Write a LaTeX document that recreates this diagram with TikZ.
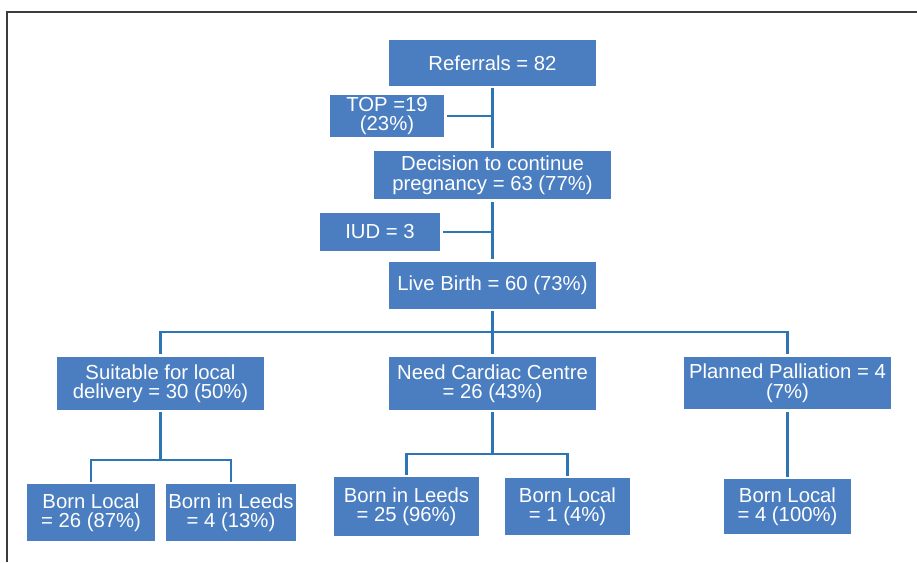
\documentclass[tikz,border=0pt]{standalone}
\usepackage{fontspec}
\setmainfont{Liberation Sans}
\definecolor{boxblue}{RGB}{74,126,192}
\definecolor{lineblue}{RGB}{46,117,182}
\definecolor{framegray}{RGB}{60,60,60}
\begin{document}
\begin{tikzpicture}[x=1pt,y=-1pt,
  box/.style={fill=boxblue,text=white,font=\fontsize{20.3}{19.5}\selectfont,align=center,inner sep=0pt,anchor=center},
  conn/.style={draw=lineblue,line width=2.3pt}]
\useasboundingbox (0,0) rectangle (917,562);
\draw[framegray,line width=2pt] (6.5,562) -- (6.5,11.5) -- (917,11.5);
% boxes
\node[box,minimum width=207,minimum height=46] (ref) at (492.5,63) {Referrals = 82};
\node[box,minimum width=114,minimum height=42] (top) at (387,116) {TOP =19\\(23\%)};
\node[box,minimum width=237,minimum height=48] (dec) at (492.5,175) {Decision to continue\\pregnancy = 63 (77\%)};
\node[box,minimum width=120,minimum height=38] (iud) at (380,232) {IUD = 3};
\node[box,minimum width=207,minimum height=47] (live) at (492.5,285.5) {Live Birth = 60 (73\%)};
\node[box,minimum width=207,minimum height=53] (suit) at (160.5,383.5) {Suitable for local\\delivery = 30 (50\%)};
\node[box,minimum width=207,minimum height=53] (card) at (492.5,383.5) {Need Cardiac Centre\\= 26 (43\%)};
\node[box,minimum width=207,minimum height=52] (pall) at (787.5,383) {Planned Palliation = 4\\(7\%)};
\node[box,minimum width=128,minimum height=57] (bl1) at (91,512.5) {Born Local\\= 26 (87\%)};
\node[box,minimum width=130,minimum height=57] (bil1) at (231,512.5) {Born in Leeds\\= 4 (13\%)};
\node[box,minimum width=145,minimum height=59] (bil2) at (406.5,506.5) {Born in Leeds\\= 25 (96\%)};
\node[box,minimum width=125,minimum height=57] (bl2) at (567.5,506.5) {Born Local\\= 1 (4\%)};
\node[box,minimum width=127,minimum height=55] (bl3) at (787.5,506.5) {Born Local\\= 4 (100\%)};
% branch coordinates
\coordinate (h1) at (492.5,332);
\coordinate (h2) at (160.5,460);
\coordinate (h3) at (492.5,454);
% connectors
\draw[conn,shorten <=2pt,shorten >=3pt] (ref.south) -- (dec.north);
\draw[conn,shorten <=3pt] (top.east) -- (top.east -| ref.south);
\draw[conn,shorten <=3pt,shorten >=3pt] (dec.south) -- (live.north);
\draw[conn,shorten <=3pt] (iud.east) -- (iud.east -| dec.south);
\draw[conn,shorten <=2pt] (live.south) -- (h1);
\draw[conn,shorten <=3pt,shorten >=3pt] (suit.north) -- (suit.north |- h1) -- (pall.north |- h1) -- (pall.north);
\draw[conn,shorten >=3pt] (h1) -- (card.north);
\draw[conn,shorten <=2pt] (suit.south) -- (h2);
\draw[conn,shorten <=2pt,shorten >=2pt] (bl1.north) -- (bl1.north |- h2) -- (bil1.north |- h2) -- (bil1.north);
\draw[conn,shorten <=2pt] (card.south) -- (h3);
\draw[conn,shorten <=2pt,shorten >=2pt] (bil2.north) -- (bil2.north |- h3) -- (bl2.north |- h3) -- (bl2.north);
\draw[conn,shorten <=3pt,shorten >=2pt] (pall.south) -- (bl3.north);
\end{tikzpicture}
\end{document}
